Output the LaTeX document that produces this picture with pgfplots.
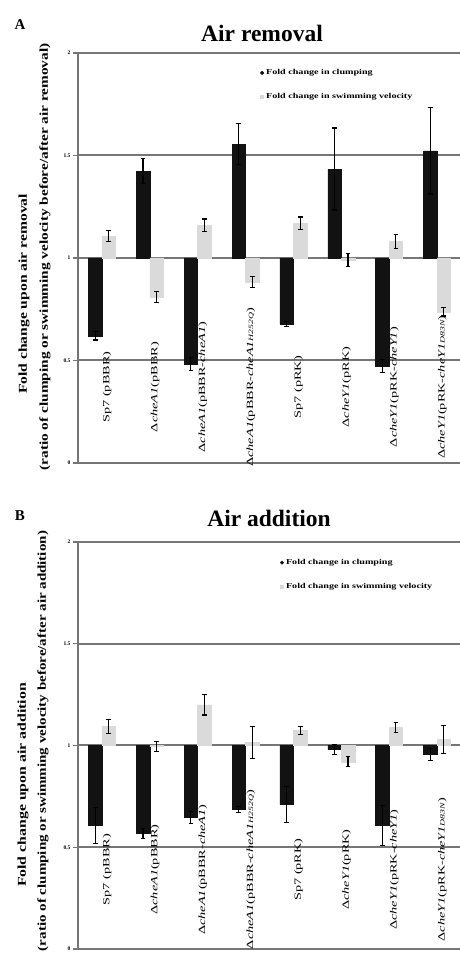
\documentclass[border=0pt]{standalone}
\usepackage{fontspec}
\setmainfont{Liberation Serif}
\usepackage{graphicx}
\usepackage{pgfplots}
\usepackage{pgfplotstable}
\pgfplotsset{compat=1.18}
\definecolor{barblack}{RGB}{18,18,18}
\definecolor{bargray}{RGB}{218,218,218}
\definecolor{gridgray}{RGB}{118,118,118}

% values: fold change (ratio), error
\pgfplotstableread{
x clump cerr swim serr
0 0.620 0.020 1.107 0.025
1 1.424 0.060 0.810 0.025
2 0.483 0.030 1.160 0.030
3 1.556 0.100 0.883 0.025
4 0.678 0.012 1.170 0.030
5 1.434 0.200 0.990 0.030
6 0.473 0.030 1.080 0.035
7 1.522 0.210 0.737 0.020
}\dataA

\pgfplotstableread{
x clump cerr swim serr
0 0.607 0.090 1.093 0.035
1 0.567 0.025 0.995 0.025
2 0.646 0.030 1.200 0.050
3 0.686 0.015 1.015 0.080
4 0.710 0.090 1.075 0.020
5 0.980 0.025 0.920 0.025
6 0.607 0.100 1.090 0.025
7 0.955 0.030 1.030 0.070
}\dataB

\pgfplotsset{
  panel/.style={
    scale only axis, width=383pt,
    xmin=-0.5, xmax=7.5, ymin=-1, ymax=1,
    ybar=0pt, bar width=13.5pt,
    axis y line*=left, axis x line=none,
    axis line style={-, gridgray, line width=2pt},
    xtick=\empty,
    ytick={-1,-0.5,0,0.5,1},
    yticklabels={0,0.5,1,1.5,2},
    ymajorgrids, grid style={gridgray, line width=2pt},
    tick align=outside, major tick length=5pt,
    major tick style={gridgray, line width=1.3pt},
    y tick label style={font=\bfseries\fontsize{5.5}{6}\selectfont, xshift=1pt},
    legend style={draw=none, fill=none, anchor=north west,
      font=\bfseries\fontsize{7.5}{8}\selectfont, row sep=13pt,
      inner sep=0pt},
    legend cell align=left,
    clip=false,
    anchor=origin,
  },
  errs/.style={error bars/.cd, y dir=both, y explicit,
    error bar style={draw=black, line width=1.1pt},
    error mark options={draw=black, rotate=90, mark size=2.4pt, line width=1.1pt}},
  blackleg/.style={legend image code/.code={\fill[barblack] (1.6pt,0pt) circle (1.8pt);}},
  grayleg/.style={legend image code/.code={\fill[bargray] (0pt,-1.6pt) rectangle (3.2pt,1.6pt);}},
}
\tikzset{lab/.style={rotate=90, font=\fontsize{9.5}{10}\selectfont}}
\newcommand{\st}[1]{\scalebox{1.5}[1]{#1}}
\newcommand{\stl}[1]{\scalebox{1.35}[1]{#1}}
\newcommand{\ssc}[1]{{\fontsize{6.5}{7}\selectfont\itshape #1}}

\begin{document}
\begin{tikzpicture}[x=1pt,y=1pt]
\path[use as bounding box] (0,0) rectangle (459,957);

% ---------- Panel A ----------
\node[font=\bfseries\fontsize{15}{16}\selectfont] at (20,932) {A};
\node[font=\bfseries\fontsize{23.5}{25}\selectfont] at (262,924) {Air removal};
\node[rotate=90, font=\bfseries\fontsize{12}{13}\selectfont] at (45,700)
  {\resizebox{427pt}{\height}{(ratio of clumping or swimming velocity before/after air removal)}};
\node[rotate=90, font=\bfseries\fontsize{12}{13}\selectfont] at (24,663)
  {\resizebox{200pt}{\height}{Fold change upon air removal}};

\begin{axis}[panel, height=410pt, at={(101.9pt,699pt)},
  y filter/.expression={y-1},
  legend style={at={(0.475,0.965)}}]
\addplot[fill=barblack, draw=barblack, blackleg, errs]
  table[x=x, y=clump, y error=cerr] {\dataA};
\addlegendentry{\stl{Fold change in clumping}}
\addplot[fill=bargray, draw=bargray, grayleg, errs]
  table[x=x, y=swim, y error=serr] {\dataA};
\addlegendentry{\stl{Fold change in swimming velocity}}
\node[lab] at (axis cs:0.11,-0.63) {\st{Sp7 (pBBR)}};
\node[lab] at (axis cs:1.11,-0.63) {\st{Δ\textit{cheA1}(pBBR)}};
\node[lab] at (axis cs:2.11,-0.63) {\st{Δ\textit{cheA1}(pBBR-\textit{cheA1})}};
\node[lab] at (axis cs:3.11,-0.63) {\st{Δ\textit{cheA1}(pBBR-\textit{cheA1}\ssc{H252Q})}};
\node[lab] at (axis cs:4.11,-0.63) {\st{Sp7 (pRK)}};
\node[lab] at (axis cs:5.11,-0.63) {\st{Δ\textit{cheY1}(pRK)}};
\node[lab] at (axis cs:6.11,-0.63) {\st{Δ\textit{cheY1}(pRK-\textit{cheY1})}};
\node[lab] at (axis cs:7.11,-0.63) {\st{Δ\textit{cheY1}(pRK-\textit{cheY1}\ssc{D83N})}};
\end{axis}

% ---------- Panel B ----------
\node[font=\bfseries\fontsize{15}{16}\selectfont] at (20,441) {B};
\node[font=\bfseries\fontsize{23.5}{25}\selectfont] at (269,439) {Air addition};
\node[rotate=90, font=\bfseries\fontsize{12}{13}\selectfont] at (43,216)
  {\resizebox{420pt}{\height}{(ratio of clumping or swimming velocity before/after air addition)}};
\node[rotate=90, font=\bfseries\fontsize{12}{13}\selectfont] at (23,172)
  {\resizebox{204pt}{\height}{Fold change upon air addition}};

\begin{axis}[panel, height=407pt, at={(101.9pt,211.5pt)},
  y filter/.expression={y-1},
  legend style={at={(0.527,0.963)}}]
\addplot[fill=barblack, draw=barblack, blackleg, errs]
  table[x=x, y=clump, y error=cerr] {\dataB};
\addlegendentry{\stl{Fold change in clumping}}
\addplot[fill=bargray, draw=bargray, grayleg, errs]
  table[x=x, y=swim, y error=serr] {\dataB};
\addlegendentry{\stl{Fold change in swimming velocity}}
\node[lab] at (axis cs:0.11,-0.61) {\st{Sp7 (pBBR)}};
\node[lab] at (axis cs:1.11,-0.61) {\st{Δ\textit{cheA1}(pBBR)}};
\node[lab] at (axis cs:2.11,-0.61) {\st{Δ\textit{cheA1}(pBBR-\textit{cheA1})}};
\node[lab] at (axis cs:3.11,-0.61) {\st{Δ\textit{cheA1}(pBBR-\textit{cheA1}\ssc{H252Q})}};
\node[lab] at (axis cs:4.11,-0.61) {\st{Sp7 (pRK)}};
\node[lab] at (axis cs:5.11,-0.61) {\st{Δ\textit{cheY1}(pRK)}};
\node[lab] at (axis cs:6.11,-0.61) {\st{Δ\textit{cheY1}(pRK-\textit{cheY1})}};
\node[lab] at (axis cs:7.11,-0.61) {\st{Δ\textit{cheY1}(pRK-\textit{cheY1}\ssc{D83N})}};
\end{axis}
\end{tikzpicture}
\end{document}
